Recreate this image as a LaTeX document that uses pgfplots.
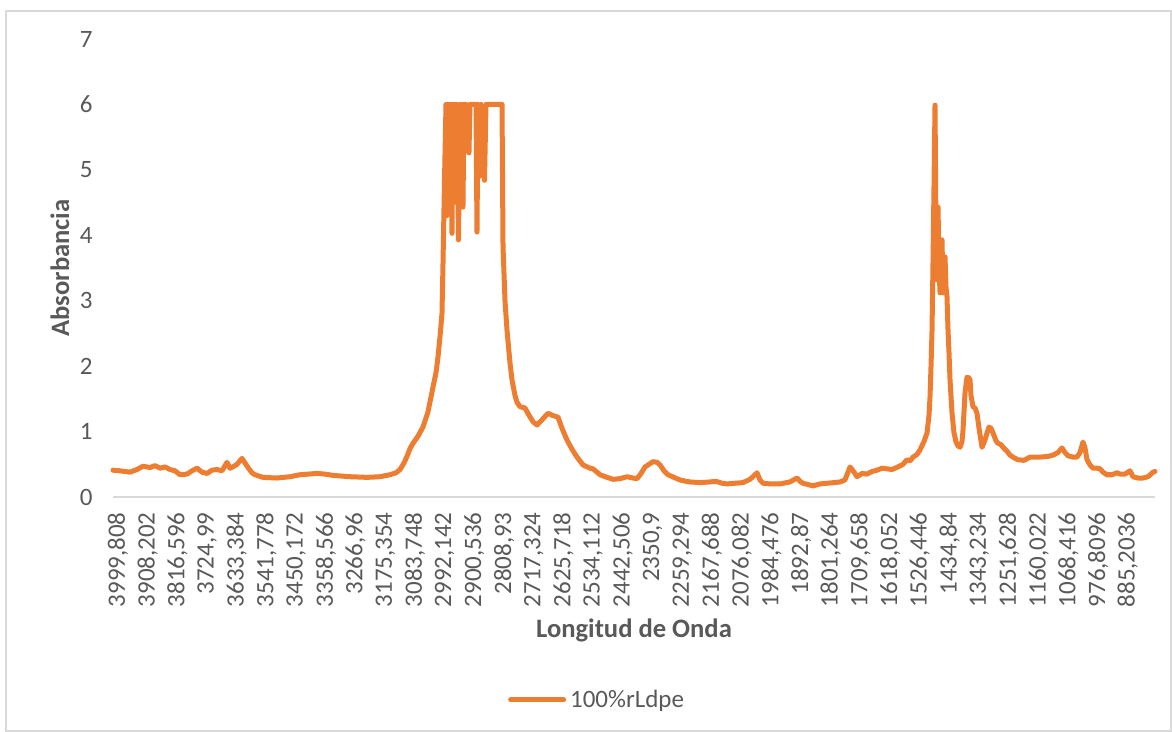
\documentclass[border=0pt]{standalone}
\usepackage{fontspec}
\setmainfont{Carlito}
\usepackage{pgfplots}
\pgfplotsset{compat=1.18}
\definecolor{xlorange}{HTML}{ED7D31}
\definecolor{xlgray}{HTML}{595959}
\definecolor{xlline}{HTML}{D9D9D9}
\begin{document}
\begin{tikzpicture}
\useasboundingbox (0,0) rectangle (586pt,366pt);
\draw[xlline, line width=0.75pt] (3pt,0.5pt) rectangle (585.5pt,360.5pt);
\begin{axis}[
  at={(56.5pt,117.5pt)}, anchor=south west,
  width=521pt, height=229pt, scale only axis,
  x dir=reverse, xmin=785.9, xmax=3999.808,
  ymin=0, ymax=7, ytick={0,1,2,3,4,5,6,7},
  axis line style={draw=none},
  major tick length=0pt,
  clip=false,
  xtick={3999.808,3908.202,3816.596,3724.99,3633.384,3541.778,3450.172,3358.566,3266.96,3175.354,3083.748,2992.142,2900.536,2808.93,2717.324,2625.718,2534.112,2442.506,2350.9,2259.294,2167.688,2076.082,1984.476,1892.87,1801.264,1709.658,1618.052,1526.446,1434.84,1343.234,1251.628,1160.022,1068.416,976.8096,885.2036},
  xticklabels={{3999,808},{3908,202},{3816,596},{3724,99},{3633,384},{3541,778},{3450,172},{3358,566},{3266,96},{3175,354},{3083,748},{2992,142},{2900,536},{2808,93},{2717,324},{2625,718},{2534,112},{2442,506},{2350,9},{2259,294},{2167,688},{2076,082},{1984,476},{1892,87},{1801,264},{1709,658},{1618,052},{1526,446},{1434,84},{1343,234},{1251,628},{1160,022},{1068,416},{976,8096},{885,2036}},
  xticklabel style={xshift=2.5pt, yshift=-7.5pt, rotate=90, anchor=east, inner sep=0pt, font=\fontsize{12.5}{14}\selectfont, text=xlgray},
  yticklabel style={anchor=east, inner sep=0pt, xshift=-10pt, font=\fontsize{12.5}{14}\selectfont, text=xlgray},
  /pgf/number format/assume math mode=true,
  legend style={at={(0.4655,-0.443)}, anchor=center, draw=none, fill=none, font=\fontsize{12.5}{14}\selectfont, text=xlgray},
  legend image code/.code={\draw[#1, line cap=round] (0pt,0pt) -- (26.5pt,0pt);},
  after end axis/.code={\draw[xlline, line width=1pt] (rel axis cs:0,0) -- (rel axis cs:1,0);},
]
\addplot[xlorange, line width=2.5pt, line join=round, line cap=round] table {
x y
3999.8 0.41
3978.2 0.40
3947.4 0.38
3925.8 0.42
3907.3 0.47
3885.7 0.45
3870.3 0.48
3854.8 0.44
3839.4 0.46
3824.0 0.42
3808.6 0.40
3793.1 0.34
3771.6 0.35
3756.1 0.40
3740.7 0.44
3725.3 0.38
3709.9 0.36
3694.4 0.41
3679.0 0.42
3663.6 0.40
3648.2 0.53
3638.9 0.44
3629.7 0.46
3617.3 0.50
3601.9 0.59
3592.6 0.52
3583.4 0.45
3571.1 0.37
3561.8 0.34
3537.1 0.30
3494.0 0.29
3453.9 0.31
3423.0 0.34
3370.6 0.36
3345.9 0.35
3321.2 0.33
3268.8 0.31
3216.3 0.30
3176.2 0.31
3145.4 0.34
3126.9 0.37
3114.5 0.42
3102.2 0.52
3093.0 0.62
3083.7 0.74
3074.5 0.82
3059.0 0.93
3043.6 1.07
3028.2 1.30
3012.8 1.68
3003.5 1.90
2997.3 2.14
2991.2 2.45
2985.0 2.81
2981.9 3.58
2977.3 4.84
2972.7 6.00
2970.1 4.30
2967.5 6.00
2965.0 4.60
2962.4 6.00
2959.8 4.40
2957.3 6.00
2954.2 4.03
2951.1 6.00
2948.0 4.50
2944.9 6.00
2941.9 4.80
2938.8 6.00
2934.2 3.93
2929.5 6.00
2926.5 4.70
2923.4 6.00
2920.3 4.43
2917.2 6.00
2911.0 6.00
2901.8 5.26
2898.7 6.00
2889.5 6.00
2880.2 6.00
2877.1 4.05
2874.0 6.00
2869.4 4.90
2864.8 6.00
2854.0 4.84
2849.3 6.00
2821.6 6.00
2799.9 6.00
2796.8 3.82
2790.7 3.00
2784.5 2.55
2775.3 2.05
2769.1 1.79
2759.8 1.55
2753.7 1.45
2744.4 1.38
2729.0 1.36
2716.7 1.25
2704.3 1.15
2692.0 1.10
2676.6 1.18
2658.1 1.28
2645.7 1.25
2627.2 1.22
2614.9 1.05
2599.4 0.87
2584.0 0.73
2568.6 0.61
2550.1 0.49
2528.5 0.44
2519.2 0.43
2497.6 0.34
2476.0 0.30
2457.5 0.27
2435.9 0.28
2414.3 0.31
2395.8 0.29
2383.5 0.28
2371.2 0.36
2358.8 0.46
2346.5 0.50
2334.2 0.54
2321.8 0.53
2312.6 0.49
2300.3 0.40
2287.9 0.34
2269.4 0.30
2250.9 0.26
2232.4 0.24
2220.1 0.23
2189.2 0.22
2158.4 0.23
2139.9 0.24
2121.3 0.21
2105.9 0.20
2081.2 0.21
2056.6 0.22
2035.0 0.27
2019.6 0.34
2013.4 0.37
2004.2 0.26
1994.9 0.21
1973.3 0.20
1942.5 0.20
1911.6 0.23
1890.0 0.29
1880.8 0.24
1871.5 0.21
1856.1 0.19
1840.6 0.17
1819.0 0.20
1797.5 0.21
1775.9 0.22
1757.4 0.23
1742.0 0.26
1726.5 0.46
1714.2 0.38
1704.9 0.31
1689.5 0.36
1674.1 0.35
1658.7 0.39
1643.2 0.41
1627.8 0.44
1612.4 0.43
1597.0 0.42
1578.5 0.46
1563.0 0.50
1550.7 0.57
1541.5 0.55
1532.2 0.61
1519.9 0.65
1510.6 0.72
1498.3 0.85
1489.0 0.98
1482.9 1.25
1479.8 1.53
1476.7 2.00
1473.6 2.55
1470.5 3.62
1467.4 4.80
1464.4 5.99
1461.3 4.00
1458.2 3.32
1455.1 4.43
1452.0 3.50
1448.9 3.12
1445.9 3.60
1442.8 3.93
1439.7 3.12
1436.6 3.40
1433.5 3.67
1430.4 3.20
1427.4 3.06
1424.3 2.55
1421.2 2.20
1418.1 1.79
1411.9 1.28
1405.8 0.98
1399.6 0.84
1393.4 0.78
1387.3 0.76
1381.1 0.85
1378.0 1.02
1371.8 1.60
1365.7 1.83
1359.5 1.82
1356.4 1.79
1353.4 1.55
1347.2 1.38
1341.0 1.36
1334.9 1.28
1328.7 1.05
1319.4 0.76
1310.2 0.87
1304.0 0.98
1297.9 1.07
1291.7 1.05
1285.6 0.98
1276.3 0.86
1270.1 0.82
1260.9 0.80
1254.7 0.76
1242.4 0.70
1233.1 0.64
1220.8 0.60
1208.5 0.57
1190.0 0.56
1171.5 0.61
1140.6 0.61
1115.9 0.62
1100.5 0.64
1085.1 0.68
1072.7 0.75
1063.5 0.68
1054.3 0.63
1038.8 0.61
1026.5 0.61
1017.2 0.68
1008.0 0.84
1001.8 0.75
995.6 0.57
986.4 0.49
977.1 0.44
964.8 0.44
955.5 0.43
946.3 0.38
934.0 0.34
918.6 0.34
903.1 0.37
893.9 0.35
878.5 0.35
863.0 0.40
853.8 0.31
838.4 0.29
822.9 0.29
807.5 0.31
792.0 0.38
785.9 0.39
};
\addlegendentry{100\%rLdpe}
\end{axis}
\node[rotate=90, font=\bfseries\fontsize{13.3}{16}\selectfont, text=xlgray] at (30pt,232pt) {Absorbancia};
\node[font=\bfseries\fontsize{13.3}{16}\selectfont, text=xlgray] at (317pt,51pt) {Longitud de Onda};
\end{tikzpicture}
\end{document}
